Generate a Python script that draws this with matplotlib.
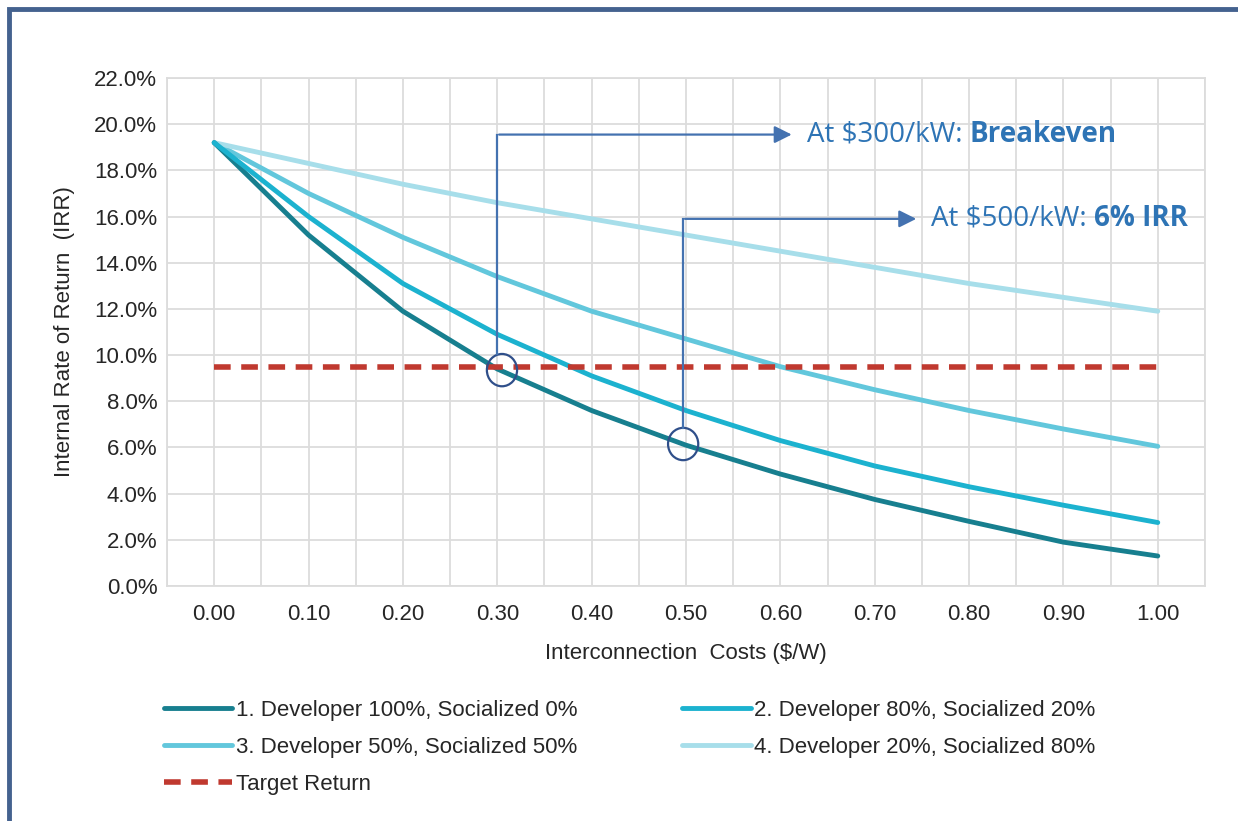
import numpy as np
import matplotlib.pyplot as plt
from matplotlib.patches import Ellipse, Rectangle
from matplotlib.ticker import FuncFormatter

plt.rcParams['font.family'] = ['Liberation Sans', 'DejaVu Sans']

# interconnection cost ($/W)
cost = [0.0, 0.1, 0.2, 0.3, 0.4, 0.5, 0.6, 0.7, 0.8, 0.9, 1.0]

# IRR in percent
dev100 = [19.2, 15.2, 11.9, 9.4, 7.6, 6.1, 4.85, 3.75, 2.8, 1.9, 1.3]
dev80 = [19.2, 16.0, 13.1, 10.9, 9.1, 7.6, 6.3, 5.2, 4.3, 3.5, 2.75]
dev50 = [19.2, 17.0, 15.1, 13.4, 11.9, 10.7, 9.5, 8.5, 7.6, 6.8, 6.05]
dev20 = [19.2, 18.3, 17.4, 16.6, 15.9, 15.2, 14.5, 13.8, 13.1, 12.5, 11.9]
target = 9.5

labels = ['1. Developer 100%, Socialized 0%',
          '2. Developer 80%, Socialized 20%',
          '3. Developer 50%, Socialized 50%',
          '4. Developer 20%, Socialized 80%',
          'Target Return']

size = 16
anno_col = '#4472b0'
text_col = '#2e74b5'

fig = plt.figure(figsize=(12.38, 8.21), dpi=100)
ax = fig.add_axes([0.1349, 0.2862, 0.9733 - 0.1349, 0.905 - 0.2862])

l1, = ax.plot(cost, dev100, color='#177f8f', lw=3.5, solid_capstyle='round', zorder=4)
l2, = ax.plot(cost, dev80, color='#1cb2cf', lw=3.5, solid_capstyle='round', zorder=4)
l3, = ax.plot(cost, dev50, color='#62c7dc', lw=3.5, solid_capstyle='round', zorder=3)
l4, = ax.plot(cost, dev20, color='#a7deea', lw=3.5, solid_capstyle='round', zorder=3)
lt, = ax.plot([cost[0], cost[-1]], [target, target], color='#c0392f', lw=4,
              ls=(0, (3, 1.9)), zorder=5)

ax.set_xlim(-0.05, 1.05)
ax.set_ylim(0, 22)
ax.set_xticks(np.arange(0, 1.001, 0.1))
ax.set_xticks(np.arange(-0.05, 1.06, 0.1), minor=True)
ax.xaxis.set_major_formatter(FuncFormatter(lambda v, p: '%.2f' % v))
ax.set_yticks(np.arange(0, 22.1, 2))
ax.yaxis.set_major_formatter(FuncFormatter(lambda v, p: '%.1f%%' % v))
ax.grid(True, which='both', color='#dcdcdc', lw=1.3)
ax.set_axisbelow(True)
ax.tick_params(which='both', length=0, labelsize=size, colors='#262626')
ax.tick_params(axis='x', pad=13)
ax.tick_params(axis='y', pad=7)
for sp in ax.spines.values():
    sp.set_color('#dcdcdc')
    sp.set_linewidth(1.3)

ax.set_xlabel('Interconnection  Costs ($/W)', fontsize=size, color='#262626', labelpad=13)
ax.set_ylabel('Internal Rate of Return  (IRR)', fontsize=size, color='#262626', labelpad=14)

# callouts
ax.add_patch(Ellipse((0.305, 9.35), 0.032, 1.4, fill=False, ec='#2f4f8a', lw=1.6, zorder=6))
ax.add_patch(Ellipse((0.497, 6.15), 0.032, 1.4, fill=False, ec='#2f4f8a', lw=1.6, zorder=6))
ax.plot([0.3, 0.3], [10.05, 19.55], color=anno_col, lw=1.6, zorder=6)
ax.annotate('', xy=(0.615, 19.55), xytext=(0.299, 19.55),
            arrowprops=dict(arrowstyle='-|>', color=anno_col, lw=1.6, mutation_scale=26), zorder=6)
ax.plot([0.497, 0.497], [6.85, 15.9], color=anno_col, lw=1.6, zorder=6)
ax.annotate('', xy=(0.747, 15.9), xytext=(0.496, 15.9),
            arrowprops=dict(arrowstyle='-|>', color=anno_col, lw=1.6, mutation_scale=26), zorder=6)

tf = ['Open Sans', 'DejaVu Sans']
asz = 20
t = ax.text(0.628, 19.55, 'At \\$300/kW: ', color=text_col, fontsize=asz, family=tf,
            va='center', ha='left')
ax.annotate('Breakeven', xy=(1, 0.5), xycoords=t, va='center', ha='left',
            color=text_col, fontsize=asz, family=tf, fontweight='bold')
t2 = ax.text(0.76, 15.9, 'At \\$500/kW: ', color=text_col, fontsize=asz, family=tf,
             va='center', ha='left')
ax.annotate('6% IRR', xy=(1, 0.5), xycoords=t2, va='center', ha='left',
            color=text_col, fontsize=asz, family=tf, fontweight='bold')

fig.legend([l1, l3, lt, l2, l4], [labels[0], labels[2], labels[4], labels[1], labels[3]],
           ncol=2, loc='upper left', bbox_to_anchor=(0.116, 0.172), frameon=False,
           fontsize=size, handlelength=3.1, handletextpad=0.15, columnspacing=4.7,
           labelspacing=0.72, labelcolor='#262626')

# frame around the slide (only top and left visible)
fig.patches.append(Rectangle((9 / 1238, -0.1), 1.2, 1 - 9 / 821 + 0.1, transform=fig.transFigure,
                             fill=False, ec='#44628f', lw=3.5, figure=fig))

fig.savefig('out.png', dpi=100)
